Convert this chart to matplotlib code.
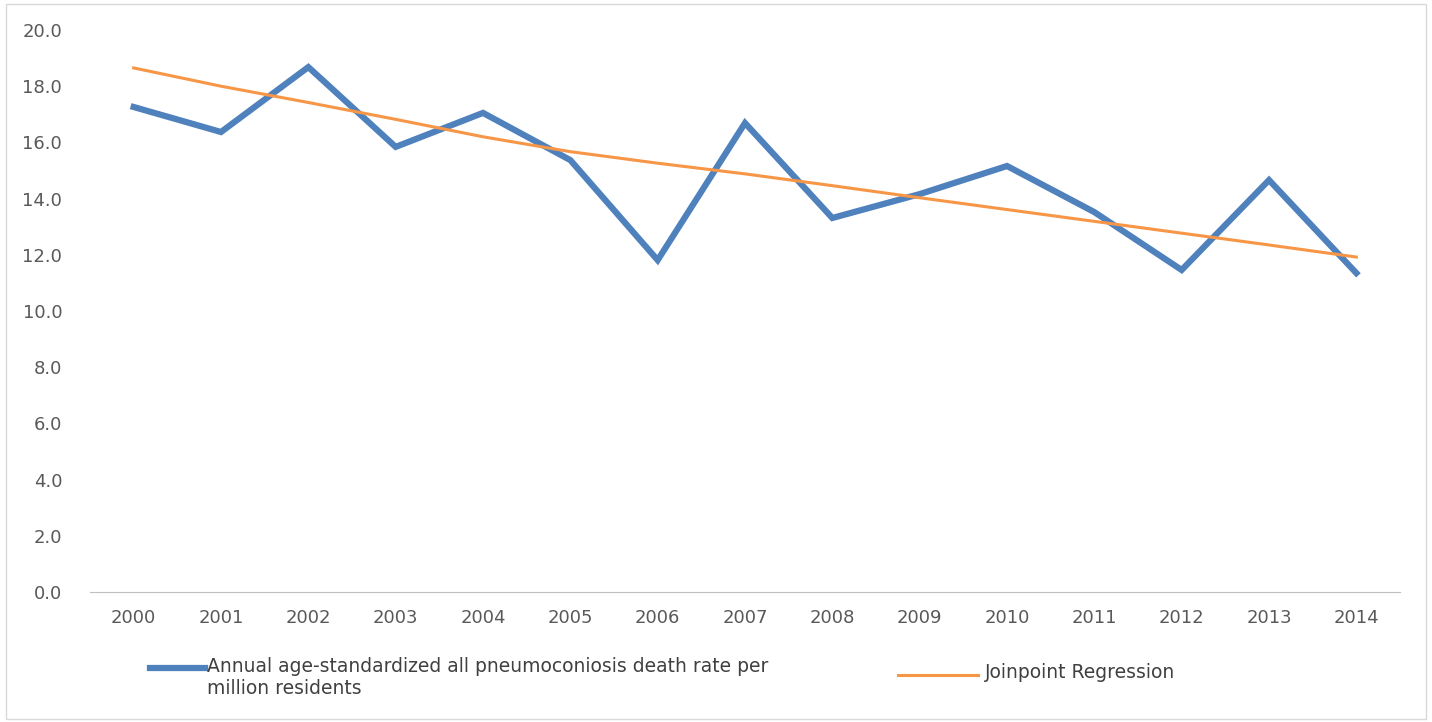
import matplotlib.pyplot as plt
from matplotlib.patches import Rectangle

years = [2000, 2001, 2002, 2003, 2004, 2005, 2006, 2007, 2008, 2009, 2010, 2011, 2012, 2013, 2014]
death_rate = [17.26, 16.37, 18.68, 15.84, 17.05, 15.37, 11.81, 16.69, 13.31, 14.16, 15.16, 13.52, 11.46, 14.66, 11.35]
joinpoint = [18.65, 18.00, 17.42, 16.82, 16.20, 15.67, 15.26, 14.88, 14.46, 14.03, 13.61, 13.19, 12.77, 12.35, 11.92]

plt.rcParams['font.family'] = ['DejaVu Sans']
fig = plt.figure(figsize=(14.32, 7.22), dpi=100)
ax = fig.add_axes([90/1432, 1-592/722, (1400-90)/1432, (592-30)/722])
x = list(range(len(years)))
ax.plot(x, death_rate, color='#4f81bd', linewidth=4.5, solid_joinstyle='miter')
ax.plot(x, joinpoint, color='#f79646', linewidth=2.2)

ax.set_xlim(-0.5, len(years) - 0.5)
ax.set_ylim(0, 20)
ax.set_yticks([i * 2 for i in range(11)])
ax.set_yticklabels(['%.1f' % (i * 2) for i in range(11)])
ax.set_xticks(x)
ax.set_xticklabels([str(y) for y in years])
for s in ['top', 'right', 'left']:
    ax.spines[s].set_visible(False)
ax.spines['bottom'].set_color('#bfbfbf')
ax.tick_params(axis='y', length=0, labelsize=13, colors='#595959', pad=20)
ax.tick_params(axis='x', length=0, labelsize=13, colors='#595959', pad=12)

fig.add_artist(Rectangle((0.004, 0.004), 0.992, 0.99, transform=fig.transFigure,
                         fill=False, edgecolor='#d9d9d9', linewidth=1))

fig.lines.append(plt.Line2D([150/1432, 205/1432], [1-668/722]*2, color='#4f81bd', linewidth=4.5, transform=fig.transFigure))
fig.text(207/1432, 1-657/722, 'Annual age-standardized all pneumoconiosis death rate per\nmillion residents',
         fontsize=13.5, color='#404040', va='top', ha='left', linespacing=1.2)
fig.lines.append(plt.Line2D([898/1432, 978/1432], [1-675/722]*2, color='#f79646', linewidth=2.2, transform=fig.transFigure))
fig.text(985/1432, 1-672/722, 'Joinpoint Regression', fontsize=13.5, color='#404040', va='center', ha='left')

fig.savefig('out.png', dpi=100)
